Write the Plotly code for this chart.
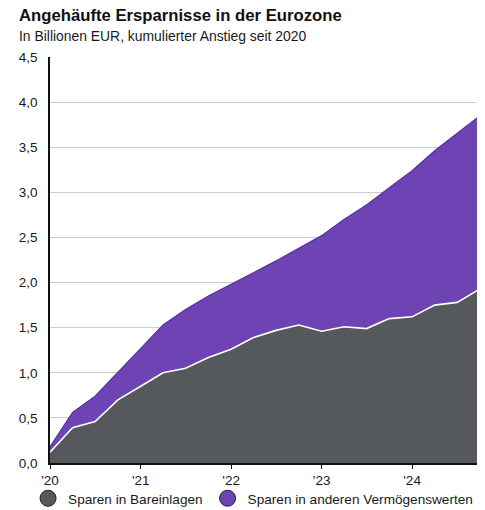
import plotly.graph_objects as go

# Quartale 2020 bis 2024
quartale = [
    "2020-01-01", "2020-04-01", "2020-07-01", "2020-10-01",
    "2021-01-01", "2021-04-01", "2021-07-01", "2021-10-01",
    "2022-01-01", "2022-04-01", "2022-07-01", "2022-10-01",
    "2023-01-01", "2023-04-01", "2023-07-01", "2023-10-01",
    "2024-01-01", "2024-04-01", "2024-07-01", "2024-10-01",
]

# Billionen EUR, kumuliert seit 2020
bareinlagen = [0.12, 0.39, 0.46, 0.70, 0.85, 1.00, 1.05, 1.17, 1.26, 1.39,
               1.47, 1.53, 1.46, 1.51, 1.49, 1.60, 1.62, 1.75, 1.78, 1.93]
andere = [0.06, 0.17, 0.28, 0.30, 0.42, 0.53, 0.65, 0.68, 0.72, 0.72,
          0.77, 0.85, 1.06, 1.19, 1.37, 1.45, 1.62, 1.71, 1.87, 1.92]

y_ticks = [0, 0.5, 1.0, 1.5, 2.0, 2.5, 3.0, 3.5, 4.0, 4.5]

GRAU = "#56595c"
LILA = "#6e44b5"

fig = go.Figure()

fig.add_trace(go.Scatter(
    x=quartale, y=bareinlagen,
    mode="lines", stackgroup="s",
    line=dict(color="white", width=1.6),
    fillcolor=GRAU, showlegend=False,
))
fig.add_trace(go.Scatter(
    x=quartale, y=andere,
    mode="lines", stackgroup="s",
    line=dict(color="#5a2f9e", width=1.2),
    fillcolor=LILA, showlegend=False,
))

# Legende mit Kreisen
for name, col in [("Sparen in Bareinlagen", GRAU),
                  ("Sparen in anderen Vermögenswerten", LILA)]:
    fig.add_trace(go.Scatter(
        x=[None], y=[None], mode="markers", name=name,
        marker=dict(symbol="circle", size=16, color=col,
                    line=dict(color="#222222", width=1)),
    ))

# Seite hat 8px Rand -> Figur etwas kleiner
fig.update_layout(
    width=477, height=502,
    margin=dict(l=42, r=5, t=49, b=47, autoexpand=False),
    paper_bgcolor="white", plot_bgcolor="white",
    separators=",.",
    font=dict(family="Liberation Sans, Arial", size=13.5, color="#1a1a1a"),
    legend=dict(orientation="h", x=-0.051, y=-0.049,
                yanchor="top", xanchor="left", bgcolor="rgba(0,0,0,0)",
                font=dict(size=13.6), itemwidth=30,
                tracegroupgap=0, traceorder="normal"),
    annotations=[
        dict(text="<b>Angehäufte Ersparnisse in der Eurozone</b>",
             xref="paper", yref="paper", x=-0.0767, y=1.1010,
             xanchor="left", yanchor="middle", showarrow=False,
             font=dict(size=16.7, color="#111111")),
        dict(text="In Billionen EUR, kumulierter Anstieg seit 2020",
             xref="paper", yref="paper", x=-0.0767, y=1.0517,
             xanchor="left", yanchor="middle", showarrow=False,
             font=dict(size=13.9, color="#1a1a1a")),
    ],
)

fig.update_xaxes(
    type="date", range=["2020-01-01", "2024-10-01"],
    dtick="M12", tick0="2020-01-01", tickformat="'%y",
    showgrid=False, showline=True, linecolor="#111111", linewidth=1.5,
    ticks="outside", ticklen=4, tickcolor="#111111",
)
fig.update_yaxes(
    range=[0, 4.5], tickvals=y_ticks, tickformat=".1f",
    showgrid=True, gridcolor="#cccccc", gridwidth=1,
    showline=True, linecolor="#111111", linewidth=1.5,
    ticks="outside", ticklen=8, tickcolor="rgba(0,0,0,0)",
    zeroline=False,
)

fig.write_html("out.html")
